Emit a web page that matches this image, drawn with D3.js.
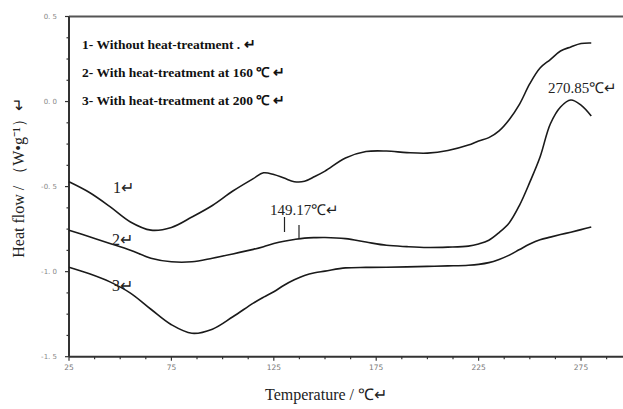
<!DOCTYPE html>
<html>
  <head>
    <title>DSC curves</title>
    <script src="https://d3js.org/d3.v7.min.js"></script>
    <style>
      body { margin: 0; background: #fff; }
      svg { display: block; }
    </style>
  </head>

  <body>
    <svg id="plot" width="623" height="409"></svg>

    <script>
      // temperature (℃) sampled along every curve
      var temps = [25, 35, 45, 55, 65, 75, 85, 95, 105, 115, 120, 125, 130, 135, 140, 145, 150,
        160, 170, 180, 190, 200, 210, 220, 225, 230, 235, 240, 245, 250, 255, 260, 265, 270, 275, 280];

      // heat flow (W/g)
      var noTreatment = [-0.472, -0.535, -0.618, -0.708, -0.756, -0.740, -0.679, -0.611, -0.526, -0.453,
        -0.419, -0.429, -0.450, -0.471, -0.469, -0.441, -0.409,
        -0.332, -0.294, -0.291, -0.300, -0.303, -0.288, -0.256,
        -0.232, -0.212, -0.172, -0.105, -0.015, 0.105, 0.197, 0.247, 0.297, 0.321, 0.341, 0.344];
      var treat160 = [-0.756, -0.795, -0.834, -0.874, -0.921, -0.942, -0.942, -0.921, -0.896, -0.869,
        -0.853, -0.835, -0.821, -0.811, -0.803, -0.800, -0.799,
        -0.806, -0.826, -0.845, -0.853, -0.858, -0.856, -0.850,
        -0.837, -0.815, -0.770, -0.712, -0.609, -0.474, -0.326, -0.132, -0.032, 0.009, -0.021, -0.085];
      var treat200 = [-0.974, -1.012, -1.060, -1.126, -1.221, -1.312, -1.362, -1.338, -1.265, -1.185,
        -1.150, -1.118, -1.080, -1.048, -1.022, -1.006, -0.997,
        -0.978, -0.975, -0.974, -0.972, -0.969, -0.966, -0.962,
        -0.957, -0.947, -0.928, -0.903, -0.870, -0.838, -0.813, -0.797, -0.782, -0.768, -0.753, -0.738];

      var curveNames = ["1", "2", "3"];
      var legendLines = ["1- Without heat-treatment .", "2- With heat-treatment at 160 ℃", "3- With heat-treatment at 200 ℃"];
      var xTicks = [25, 75, 125, 175, 225, 275];
      var yTicks = [0.5, 0.0, -0.5, -1.0, -1.5];
      var peakLabels = [{ t: 149.17, text: "149.17℃" }, { t: 270.85, text: "270.85℃" }];

      var serif = "'Liberation Serif', 'Times New Roman', serif";
      var svg = d3.select("#plot");

      var x = d3.scaleLinear().domain([25, 295.5]).range([69, 623]);
      var y = d3.scaleLinear().domain([-1.5, 0.5]).range([356.7, 16.5]);

      // frame: top rule
      svg.append("line")
        .attr("x1", 69).attr("x2", 623)
        .attr("y1", y(0.5)).attr("y2", y(0.5))
        .attr("stroke", "#555").attr("stroke-width", 2);

      // x axis
      var xAxis = svg.append("g").attr("transform", "translate(0," + y(-1.5) + ")");
      xAxis.append("line").attr("x1", 69).attr("x2", 623)
        .attr("stroke", "#333").attr("stroke-width", 2);
      xAxis.selectAll(".minor")
        .data(d3.range(25, 295, 12.5))
        .join("line")
        .attr("x1", (d) => x(d)).attr("x2", (d) => x(d))
        .attr("y1", 0).attr("y2", (d, i) => (i % 4 == 0 ? 4 : 2.5))
        .attr("stroke", "#333").attr("stroke-width", 1.2);
      xAxis.selectAll("text")
        .data(xTicks)
        .join("text")
        .attr("x", (d) => x(d)).attr("y", 13)
        .attr("text-anchor", "middle")
        .attr("font-family", "'DejaVu Sans', sans-serif")
        .attr("font-size", 7.5)
        .attr("fill", "#777")
        .text((d) => d);

      // y axis
      var yAxis = svg.append("g").attr("transform", "translate(69,0)");
      yAxis.append("line").attr("y1", y(0.5)).attr("y2", y(-1.5))
        .attr("stroke", "#333").attr("stroke-width", 2);
      yAxis.selectAll(".minor")
        .data(d3.range(0, 17))
        .join("line")
        .attr("y1", (d) => y(0.5 - d * 0.125)).attr("y2", (d) => y(0.5 - d * 0.125))
        .attr("x1", 0).attr("x2", (d) => (d % 4 == 0 ? -4 : -2.5))
        .attr("stroke", "#333").attr("stroke-width", 1.2);
      yAxis.selectAll("text")
        .data(yTicks)
        .join("text")
        .attr("x", -12).attr("y", (d) => y(d) + 2.5)
        .attr("text-anchor", "end")
        .attr("font-family", "'DejaVu Sans', sans-serif")
        .attr("font-size", 7)
        .attr("fill", "#888")
        .text((d) => d.toFixed(1).replace(".", ". "));

      // axis titles
      svg.append("text")
        .attr("x", 326).attr("y", 400)
        .attr("text-anchor", "middle")
        .attr("font-family", serif).attr("font-size", 16)
        .attr("fill", "#222")
        .text("Temperature / ℃↵");
      svg.append("text")
        .attr("transform", "translate(24,178) rotate(-90)")
        .attr("text-anchor", "middle")
        .attr("font-family", serif).attr("font-size", 16)
        .attr("fill", "#222")
        .text("Heat flow / （W•g⁻¹）↵");

      // curves
      var series = [noTreatment, treat160, treat200];
      var line = d3.line()
        .x((d, i) => x(temps[i]))
        .y((d) => y(d))
        .curve(d3.curveCatmullRom.alpha(0.5));
      svg.selectAll(".curve")
        .data(series)
        .join("path")
        .attr("class", "curve")
        .attr("d", line)
        .attr("fill", "none")
        .attr("stroke", "#1a1a1a")
        .attr("stroke-width", 1.6);

      // curve numbers
      var numPos = [[113, 193], [112, 245], [112, 291]];
      svg.selectAll(".num")
        .data(curveNames)
        .join("text")
        .attr("x", (d, i) => numPos[i][0]).attr("y", (d, i) => numPos[i][1])
        .attr("font-family", serif).attr("font-size", 16)
        .attr("fill", "#222")
        .text((d) => d + "↵");

      // legend
      svg.selectAll(".leg")
        .data(legendLines)
        .join("text")
        .attr("x", 82).attr("y", (d, i) => 49 + i * 28)
        .attr("font-family", serif).attr("font-size", 13.5)
        .attr("font-weight", "bold")
        .attr("fill", "#111")
        .text((d) => d + " ↵");

      // peak annotations
      svg.append("text")
        .attr("x", 270).attr("y", 215)
        .attr("font-family", serif).attr("font-size", 15)
        .attr("fill", "#222")
        .text(peakLabels[0].text + "↵");
      svg.append("line")
        .attr("x1", 284.5).attr("x2", 284.5).attr("y1", 217).attr("y2", 232)
        .attr("stroke", "#222").attr("stroke-width", 1.2);
      svg.append("line")
        .attr("x1", 299).attr("x2", 299).attr("y1", 225).attr("y2", y(-0.805))
        .attr("stroke", "#222").attr("stroke-width", 1.2);
      svg.append("text")
        .attr("x", 548).attr("y", 93)
        .attr("font-family", serif).attr("font-size", 15)
        .attr("fill", "#222")
        .text(peakLabels[1].text + "↵");
    </script>
  </body>
</html>
